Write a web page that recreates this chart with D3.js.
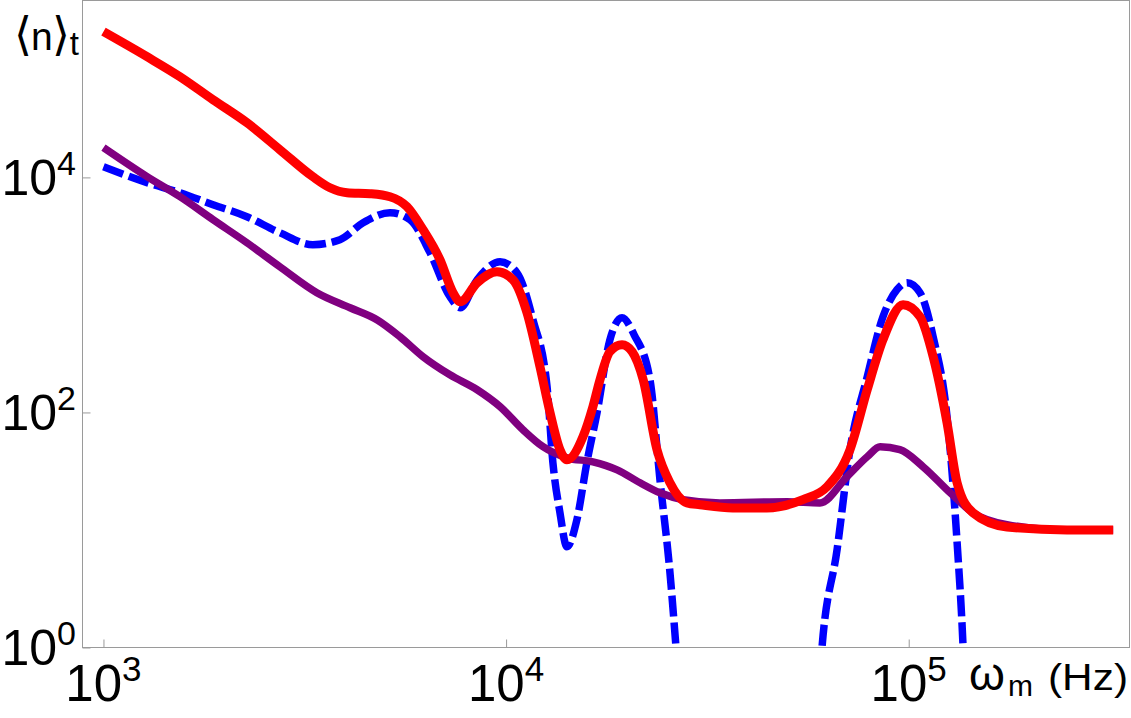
<!DOCTYPE html>
<html>
<head>
<meta charset="utf-8">
<script src="https://cdn.jsdelivr.net/npm/d3@7"></script>
<style>
  html, body { margin: 0; padding: 0; background: #fff; }
  svg { display: block; font-family: 'Liberation Sans', Arial, sans-serif; }
</style>
</head>
<body>
<div id="chart"></div>
<script>
// podaci očitani sa slike (Hz, <n>_t)
const xTicks = [1e3, 1e4, 1e5];
const yTicks = [1e0, 1e2, 1e4];
const xTickExp = ['3', '4', '5'];
const yTickExp = ['0', '2', '4'];

const redHz = [1000, 1283, 1549, 1871, 2271, 2742, 3311, 3653, 4027, 4592, 5148, 5673, 6219, 6851, 7383, 7691, 8474, 9492, 10400, 11270,
  12140, 12860, 13610, 14160, 15520, 16430, 17110, 18110, 19410, 20560, 21900, 23700, 25530, 28140, 30320, 36560, 44420, 54620, 62690, 71480,
  78870, 86310, 96830, 106700, 115000, 124500, 131900, 144400, 175400, 247300, 322000];
const redN = [173800, 106400, 71900, 45800, 29200, 17220, 10140, 8170, 7410, 7270, 6850, 5630, 3590, 1994, 1045, 875, 1270, 1574, 1347, 706,
  245, 99.5, 48.2, 39.6, 62.1, 112, 190, 329, 377, 329, 190, 48.2, 25.2, 17.0, 16.4, 15.4, 15.4, 18.1, 23.3, 48.2,
  156, 416, 826, 652, 298, 81.7, 25.2, 14.0, 10.6, 10.0, 10.0];

// plava isprekidana — ide ispod 10^0, null = prekid
const blueHz = [1000, 1283, 1549, 1871, 2271, 2742, 3311, 3866, 4414, 5148, 5771, 6471, 7253, 7691, 8474, 9660, 10640, 11660, 12640, 13070,
  13610, 14160, 14990, 15870, 16820, 18110, 19410, 20800, 22770, 24110, 25530, 26430, 27040, 40000, 59570, 60900, 66380, 71480, 78870, 86310,
  93500, 99070, 106700, 115000, 124500, 131900, 136500, 138100];
const blueN = [12330, 9020, 7410, 5860, 4630, 3380, 2675, 2950, 4110, 5010, 4370, 2290, 966, 778, 1347, 1916, 1545, 615, 165.5, 37.3,
  14.0, 7.19, 12.2, 37.3, 99.5, 416, 640, 458, 190, 26.7, 4.32, 1.0, 0.36, null, 0.36, 1.0, 6.79, 48.2, 201, 652,
  1107, 1270, 1045, 441, 92, 7.78, 1.0, 0.36];

const purpleHz = [1000, 1283, 1549, 1871, 2271, 2742, 3388, 4096, 4777, 5450, 6219, 7253, 8474, 9660, 11010, 12350, 14160, 16430, 18870, 21520,
  24110, 27530, 33980, 49850, 60200, 70260, 78870, 84940, 95100, 108600, 126800, 144400, 175400, 247300, 322000];
const purpleN = [17900, 10140, 6850, 4370, 2780, 1738, 1045, 778, 615, 441, 298, 209, 156, 112, 71.3, 51.1, 41.1, 38.0, 32.5, 25.2,
  20.7, 18.1, 17.0, 17.4, 17.0, 28.4, 42.0, 51.1, 48.2, 34.5, 20.7, 14.0, 11.1, 10.0, 10.0];

const W = 1131, H = 718;
const L = 82.5, R = 1129.5, T = 0.5, B = 647.5;

const svg = d3.select('#chart').append('svg').attr('width', W).attr('height', H);

const xS = d3.scaleLog().domain([887, 353500]).range([L, R]);
const yS = d3.scaleLog().domain([1, 320000]).range([B, T]);

svg.append('clipPath').attr('id', 'clip')
  .append('rect').attr('x', L).attr('y', T).attr('width', R - L).attr('height', B - T);

// okvir
svg.append('rect').attr('x', L).attr('y', T).attr('width', R - L).attr('height', B - T)
  .attr('fill', 'none').attr('stroke', '#9a9a9a').attr('stroke-width', 1);

// kvačice
svg.append('g').attr('transform', `translate(0,${B})`)
  .call(d3.axisBottom(xS).tickValues(xTicks).tickSize(-8).tickFormat(''))
  .call(g => g.select('.domain').remove())
  .call(g => g.selectAll('line').attr('stroke', '#9a9a9a'));
svg.append('g').attr('transform', `translate(${L},0)`)
  .call(d3.axisLeft(yS).tickValues(yTicks).tickSize(-8).tickFormat(''))
  .call(g => g.select('.domain').remove())
  .call(g => g.selectAll('line').attr('stroke', '#9a9a9a'));

// oznake 10^k
xTicks.forEach((v, i) => {
  const t = svg.append('text').attr('x', xS(v)).attr('y', 701)
    .attr('text-anchor', 'middle').attr('fill', '#000');
  t.append('tspan').attr('font-size', 51).text('10');
  t.append('tspan').attr('font-size', 35).attr('dy', -20).text(xTickExp[i]);
});
yTicks.forEach((v, i) => {
  const t = svg.append('text').attr('x', 76).attr('y', yS(v) + 17.5)
    .attr('text-anchor', 'end').attr('fill', '#000');
  t.append('tspan').attr('font-size', 50).text('10');
  t.append('tspan').attr('font-size', 34).attr('dy', -20).text(yTickExp[i]);
});

// naslovi osi
const yl = svg.append('text').attr('x', 14).attr('y', 50).attr('fill', '#000');
yl.append('tspan').attr('font-size', 46).text('\u27E8');
yl.append('tspan').attr('font-size', 39).attr('dx', -1).text('n');
yl.append('tspan').attr('font-size', 46).attr('dx', -1).text('\u27E9');
yl.append('tspan').attr('font-size', 33).attr('dy', 5).text('t');

const xl = svg.append('text').attr('x', 969).attr('y', 690).attr('fill', '#000');
xl.append('tspan').attr('font-size', 46).text('\u03C9');
xl.append('tspan').attr('font-size', 30).attr('dx', 3).attr('dy', 6).text('m');
svg.append('text').attr('x', 1048).attr('y', 690).attr('fill', '#000')
  .attr('font-size', 37).attr('textLength', 80).attr('lengthAdjust', 'spacingAndGlyphs').text('(Hz)');

// krivulje
const line = d3.line()
  .defined(d => d[1] != null)
  .x(d => xS(d[0])).y(d => yS(d[1]))
  .curve(d3.curveMonotoneX);

const plot = svg.append('g').attr('clip-path', 'url(#clip)');
[
  [blueHz, blueN, '#0000ff', 7.5, '21,6'],
  [purpleHz, purpleN, '#800080', 7.5, null],
  [redHz, redN, '#ff0000', 9, null],
].forEach(([hz, n, col, sw, dash]) => {
  plot.append('path')
    .attr('d', line(hz.map((h, i) => [h, n[i]])))
    .attr('fill', 'none').attr('stroke', col).attr('stroke-width', sw)
    .attr('stroke-linejoin', 'round')
    .attr('stroke-dasharray', dash);
});
</script>
</body>
</html>
